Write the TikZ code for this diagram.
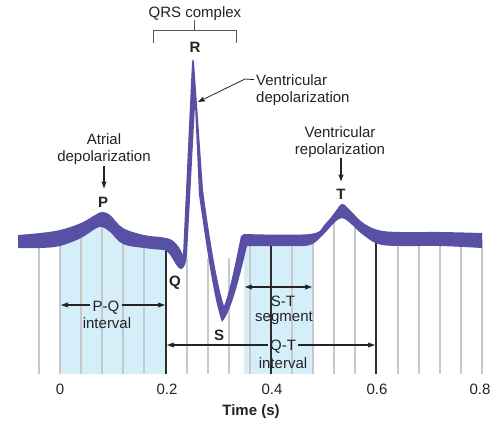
\documentclass[tikz,border=0pt]{standalone}
\usepackage{fontspec}
\setmainfont{Liberation Sans}
\usetikzlibrary{arrows.meta}
\definecolor{ecg}{RGB}{88,80,165}
\definecolor{bluefill}{RGB}{212,238,250}
\definecolor{gridgray}{RGB}{200,200,200}
\definecolor{darkline}{RGB}{45,45,45}
\definecolor{txt}{RGB}{35,35,35}
\begin{document}
\begin{tikzpicture}[x=1pt,y=-1pt,
  lab/.style={font=\fontsize{15}{17}\selectfont, text=txt, inner sep=0pt},
  blab/.style={font=\fontsize{15}{17}\selectfont\bfseries, text=txt, inner sep=0pt},
  gridln/.style={gridgray, line width=1.4pt},
  dline/.style={darkline, line width=1.3pt},
  brack/.style={darkline!80, line width=0.9pt},
  arr/.style={-{Stealth[length=7pt,width=5pt,inset=1pt]}, line width=1.1pt, txt},
  arrb/.style={{Stealth[length=7pt,width=5pt,inset=1pt]}-{Stealth[length=7pt,width=5pt,inset=1pt]}, line width=1.1pt, txt},
  arrthin/.style={-{Stealth[length=7pt,width=5pt,inset=1pt]}, line width=0.8pt, txt},
  ]
\useasboundingbox (0,0) rectangle (502,423);
% blue regions
\fill[bluefill] (60,374) -- (60,238) -- (81,231) -- (102,220) -- (123,236) -- (144,242) -- (166,244) -- (166,374) -- cycle;
\fill[bluefill] (244,240) rectangle (313,374);
% grid lines
\foreach \x/\y in {39/241, 60/238, 81/231, 102/220, 123/236, 144/242, 187/258, 208/258, 229/258, 250/240, 292/240, 313/240, 334/216, 355/226, 398/240, 419/240, 440/240, 461/240, 482/240}
  \draw[gridln] (\x,\y) -- (\x,374);
\foreach \x/\y in {166/244, 271/240, 376/238}
  \draw[dline] (\x,\y) -- (\x,374);
% ECG trace
\fill[ecg] (18,248) -- plot[smooth, tension=0.6] coordinates {(18,235) (40,233) (60,230) (81,223) (95,215) (102,212) (110,215) (123,228) (144,235) (160,237) (166,238)}
  .. controls (174,239) and (179,246) .. (183,255)
  -- (192,62) -- (193,59) -- (194,62)
  -- (203,190) .. controls (209,235) and (217,285) .. (224,306)
  .. controls (229,295) and (236,260) .. (241,236) -- (244,234)
  -- plot[smooth, tension=0.6] coordinates {(244,234) (310,234) (325,224) (335,212) (342,204) (350,210) (362,222) (378,230) (400,232) (440,232) (482,233)}
  -- plot[smooth, tension=0.6] coordinates {(482,248) (440,246) (400,246) (378,244) (362,234) (350,223) (342,218) (334,223) (322,236) (310,245) (290,246) (247,246)}
  .. controls (240,275) and (232,310) .. (222,322)
  .. controls (214,300) and (207,250) .. (199,195)
  -- (195,105) -- (187,255)
  .. controls (186,264) and (184,269) .. (181,269)
  .. controls (175,268) and (172,252) .. (164,250)
  -- plot[smooth, tension=0.6] coordinates {(164,250) (144,248) (123,244) (110,232) (102,227) (95,229) (81,238) (60,246) (40,248) (18,248)}
  -- cycle;
% top labels
\node[lab, anchor=base] (qrs) at (195,17) {QRS complex};
\coordinate (brk) at (194,30);
\draw[brack] (153,43) -- (153,30) -- (236,30) -- (236,43);
\draw[brack] (brk |- qrs.south) -- (brk);
\node[blab, anchor=base] (R) at (195,52) {R};
\node[lab, anchor=base west] (vd) at (256,85) {Ventricular};
\node[lab, anchor=base west] (vd2) at (256,102) {depolarization};
\coordinate (vdk) at (245,79);
\coordinate (vdt) at (198,102);
\draw[arrthin] ([xshift=-2pt]vd.west) -- (vdk) -- (vdt);
% atrial
\node[lab, anchor=base] (ad1) at (104,144) {Atrial};
\node[lab, anchor=base] (ad2) at (104,161) {depolarization};
\node[blab, anchor=base] (P) at (103,207) {P};
\draw[arr, shorten <=2pt, shorten >=8pt] (ad2.south) -- (ad2.south |- P.north);
% ventricular repolarization
\node[lab, anchor=base] (vr1) at (340,137) {Ventricular};
\node[lab, anchor=base] (vr2) at (340,154) {repolarization};
\node[blab, anchor=base] (T) at (341,199) {T};
\draw[arr, shorten <=1pt, shorten >=7pt] (vr2.south -| T.north) -- (T.north);
% Q, S
\node[blab, anchor=base] (Q) at (175,286) {Q};
\node[blab, anchor=base] (S) at (219,340) {S};
% P-Q interval
\node[lab, anchor=base, inner sep=2pt] (pq) at (106,311) {P-Q};
\node[lab, anchor=base] (pqi) at (107,328) {interval};
\coordinate (pqL) at (61,305);
\coordinate (pqR) at (165,305);
\draw[arr] (pq.west |- pqL) -- (pqL);
\draw[arr] (pq.east |- pqR) -- (pqR);
% S-T segment
\coordinate (stL) at (245,287);
\coordinate (stR) at (312,287);
\draw[arrb] (stL) -- (stR);
\node[lab, anchor=base] (st) at (283,306) {S-T};
\node[lab, anchor=base] (stseg) at (284,321) {segment};
% Q-T interval
\node[lab, anchor=base, inner sep=2pt] (qt) at (283,350) {Q-T};
\node[lab, anchor=base] (qti) at (283,368) {interval};
\coordinate (qtL) at (167,345);
\coordinate (qtR) at (375,345);
\draw[arr] (qt.west |- qtL) -- (qtL);
\draw[arr] (qt.east |- qtR) -- (qtR);
% axis labels
\node[lab, anchor=base] (t0) at (60,394) {0};
\node[lab, anchor=base] (t2) at (167,394) {0.2};
\node[lab, anchor=base] (t4) at (272,394) {0.4};
\node[lab, anchor=base] (t6) at (377,394) {0.6};
\node[lab, anchor=base] (t8) at (480,394) {0.8};
\node[blab, anchor=base] (time) at (251,415) {Time (s)};
\end{tikzpicture}
\end{document}
